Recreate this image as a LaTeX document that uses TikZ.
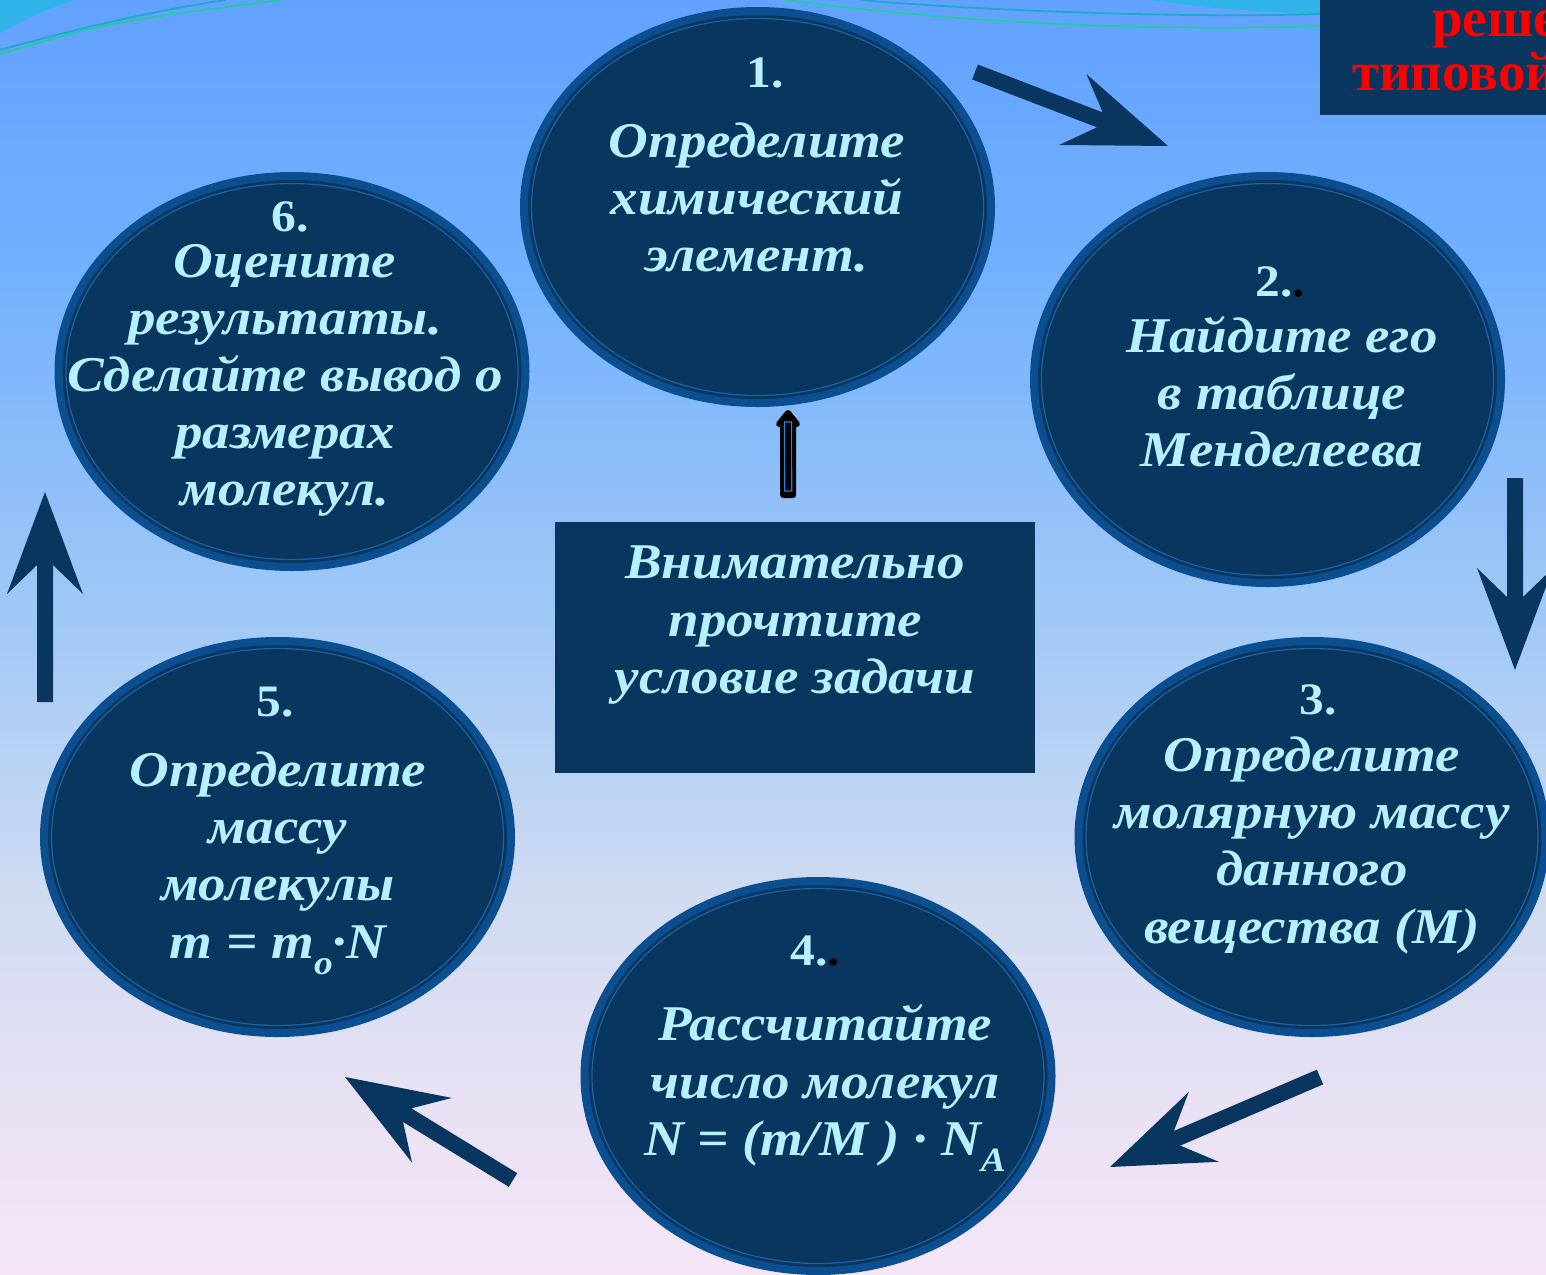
\documentclass[tikz,border=0pt]{standalone}
\usepackage{fontspec}
\setmainfont{Liberation Serif}
\newfontfamily\labfont[FakeStretch=1.1]{Liberation Serif}
\usetikzlibrary{shapes.geometric,calc}
\definecolor{navyfill}{HTML}{08365F}
\definecolor{ringc}{HTML}{0B4F90}
\definecolor{innerring}{HTML}{1C62A3}
\definecolor{txtc}{HTML}{B5F1FF}
\definecolor{arrc}{HTML}{08365F}
\definecolor{cyanbg}{HTML}{2FB3E9}
\definecolor{tealline}{HTML}{1FA9C9}
\definecolor{greenline}{HTML}{22CC9A}
\definecolor{bgA}{HTML}{F4E6F7}
\definecolor{bgA2}{HTML}{EAE2F4}
\definecolor{bgB}{HTML}{CFDBF1}
\definecolor{bgC}{HTML}{A3CAF5}
\definecolor{bgD}{HTML}{74B1FE}
\definecolor{bgE}{HTML}{62A2FF}
\definecolor{innerblue}{HTML}{2A80D2}
\pgfdeclareverticalshading{bgsh}{100bp}{color(0bp)=(bgA); color(25bp)=(bgA); color(31bp)=(bgA2); color(40bp)=(bgB); color(50bp)=(bgC); color(64bp)=(bgD); color(75bp)=(bgE); color(100bp)=(bgE)}
\newcommand\blockarr[2]{%
  \coordinate (nA) at ($(#2)!73pt!(#1)$);
  \coordinate (bA) at ($(#2)!102pt!(#1)$);
  \fill[arrc] ($(#1)!8pt!90:(#2)$) -- ($(nA)!8pt!-90:(#1)$) -- ($(bA)!38pt!-90:(#1)$) -- (#2)
    -- ($(bA)!38pt!90:(#1)$) -- ($(nA)!8pt!90:(#1)$) -- ($(#1)!8pt!-90:(#2)$) -- cycle;}
\tikzset{
  ell/.style={ellipse, draw=ringc, line width=8pt, fill=navyfill, inner sep=0pt},
  ring/.style={ellipse, draw=innerring, line width=1.2pt, inner sep=0pt},
  txt/.style={text=txtc, anchor=base, inner sep=0pt, font=\labfont\bfseries\itshape\fontsize{50}{58}\selectfont},
  num/.style={text=txtc, anchor=base, inner sep=0pt, font=\labfont\bfseries\fontsize{45}{52}\selectfont},
  redtxt/.style={text=red, anchor=base west, inner sep=0pt, font=\bfseries\fontsize{55}{62}\selectfont},
}
\begin{document}
\begin{tikzpicture}[x=1pt,y=-1pt]
\useasboundingbox (0,0) rectangle (1546,1274);
\clip (0,0) rectangle (1546,1274);
\shade[shading=bgsh] (0,0) rectangle (1546,1274);
% top decorations
\fill[cyanbg] (0,0) -- (74,0) .. controls (40,12) .. (0,33) -- cycle;
\draw[tealline, line width=1.8pt] (0,50) .. controls (90,25) and (160,10) .. (225,0);
\draw[greenline, line width=1.8pt] (0,54) .. controls (110,22) .. (280,0);
\fill[cyanbg] (1150,0) .. controls (1230,10) .. (1320,14) -- (1320,0) -- cycle;
\draw[tealline, line width=1.8pt] (860,0) .. controls (1000,12) and (1200,18) .. (1320,14);
\draw[greenline, line width=1.8pt] (785,0) .. controls (950,22) and (1150,32) .. (1320,26);
% top-right box
\node[fill=navyfill, minimum width=240pt, minimum height=115pt, inner sep=0pt, anchor=north west] (tr) at (1320,0) {};
\node[redtxt] (tr1) at (1432,36) {реше};
\node[redtxt] (tr2) at (1352,90) {типовой};
% ellipses
\node[ell, minimum width=467pt, minimum height=392pt] (e1) at (757.5,207) {};
\node[ring, minimum width=452pt, minimum height=377pt] (r1) at (e1) {};
\node[ell, minimum width=467pt, minimum height=407pt] (e2) at (1267.5,379.5) {};
\node[ring, minimum width=452pt, minimum height=392pt] (r2) at (e2) {};
\node[ell, minimum width=467pt, minimum height=392pt] (e3) at (1312,837) {};
\node[ring, minimum width=452pt, minimum height=377pt] (r3) at (e3) {};
\node[ell, minimum width=467pt, minimum height=390pt] (e4) at (818,1076) {};
\node[ring, minimum width=452pt, minimum height=375pt] (r4) at (e4) {};
\node[ell, minimum width=467pt, minimum height=392pt] (e5) at (277.5,837) {};
\node[ring, minimum width=452pt, minimum height=377pt] (r5) at (e5) {};
\node[ell, minimum width=467pt, minimum height=391pt] (e6) at (292,371.5) {};
\node[ring, minimum width=452pt, minimum height=376pt] (r6) at (e6) {};
% center box
\node[fill=navyfill, minimum width=480pt, minimum height=251pt, inner sep=0pt, anchor=north west] (box) at (555,522) {};
% texts ellipse 1
\node[num] (n1) at (765,87) {1.};
\node[txt] (t1a) at (757,157) {Определите};
\node[txt] (t1b) at (757,214) {химический};
\node[txt] (t1c) at (757,271) {элемент.};
% ellipse 2
\node[num] (n2) at (1280,296) {2.\textcolor{black}{.}};
\node[txt] (t2a) at (1282,352) {Найдите его};
\node[txt] (t2b) at (1282,409) {в таблице};
\node[txt] (t2c) at (1282,466) {Менделеева};
% ellipse 3
\node[num] (n3) at (1318,714) {3.};
\node[txt] (t3a) at (1312,771) {Определите};
\node[txt] (t3b) at (1312,828) {молярную массу};
\node[txt] (t3c) at (1312,885) {данного};
\node[txt] (t3d) at (1312,943) {вещества (М)};
% ellipse 4
\node[num] (n4) at (815,965) {4.\textcolor{black}{.}};
\node[txt] (t4a) at (825,1040) {Рассчитайте};
\node[txt] (t4b) at (825,1098) {число молекул};
\node[txt] (t4c) at (825,1155) {N =\ (m/M ) · N\raisebox{-0.32em}{\fontsize{34}{40}\selectfont A}};
% ellipse 5
\node[num] (n5) at (275,716) {5.};
\node[txt] (t5a) at (278,786) {Определите};
\node[txt] (t5b) at (278,843) {массу};
\node[txt] (t5c) at (278,900) {молекулы};
\node[txt] (t5d) at (278,958) {m = m\raisebox{-0.32em}{\fontsize{34}{40}\selectfont o}·N};
% ellipse 6
\node[num] (n6) at (290,231) {6.};
\node[txt] (t6a) at (285,277) {Оцените};
\node[txt] (t6b) at (285,334) {результаты.};
\node[txt] (t6c) at (285,391) {Сделайте вывод о};
\node[txt] (t6d) at (285,448) {размерах};
\node[txt] (t6e) at (285,505) {молекул.};
% box text
\node[txt] (b1) at (795,578) {Внимательно};
\node[txt] (b2) at (795,636) {прочтите};
\node[txt] (b3) at (795,693) {условие задачи};
% block arrows
\coordinate (a1s) at (975,72);   \coordinate (a1e) at (1168,146);
\coordinate (a2s) at (1515,478); \coordinate (a2e) at (1515,670);
\coordinate (a3s) at (1320,1077); \coordinate (a3e) at (1110,1167);
\coordinate (a4s) at (513,1180); \coordinate (a4e) at (345,1077);
\coordinate (a5s) at (45,702);   \coordinate (a5e) at (45,492);
\blockarr{a1s}{a1e}
\blockarr{a2s}{a2e}
\blockarr{a3s}{a3e}
\blockarr{a4s}{a4e}
\blockarr{a5s}{a5e}
% central hollow arrow from box to ellipse 1
\coordinate (cs) at ($(box.north)+(-7,-27)$);
\coordinate (ce) at ($(e1.south)+(30.5,6)$);
\filldraw[black, line width=6pt, line join=round]
  ($(cs)+(-5,0)$) -- ($(ce)+(-5,11)$) -- ($(ce)+(-9,11)$) -- (ce) -- ($(ce)+(9,11)$) -- ($(ce)+(5,11)$) -- ($(cs)+(5,0)$) -- cycle;
\draw[innerblue, line width=1.2pt] ($(cs)+(-3.5,-4)$) -- ($(ce)+(-3.5,9)$) -- ($(ce)+(3.5,9)$) -- ($(cs)+(3.5,-4)$) -- cycle;
\end{tikzpicture}
\end{document}
